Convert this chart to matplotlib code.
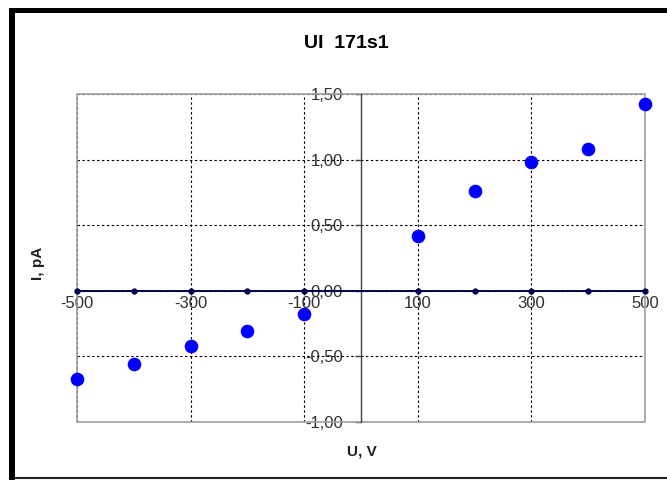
import matplotlib
matplotlib.use("Agg")
import matplotlib.pyplot as plt
from matplotlib.patches import Rectangle
from matplotlib.lines import Line2D
from matplotlib.ticker import FuncFormatter

plt.rcParams['font.family'] = ['Liberation Sans', 'DejaVu Sans']

# data
voltage = [-500, -400, -300, -200, -100, 100, 200, 300, 400, 500]
current = [-0.67, -0.56, -0.42, -0.305, -0.175, 0.42, 0.76, 0.98, 1.08, 1.42]
zero_line = [0, 0, 0, 0, 0, 0, 0, 0, 0, 0]
x_ticks = [-500, -300, -100, 100, 300, 500]
y_ticks = [-1.0, -0.5, 0.0, 0.5, 1.0, 1.5]
title = "UI  171s1"
x_label = "U, V"
y_label = "I, pA"

W, H = 667, 480
fig = plt.figure(figsize=(W / 100, H / 100), dpi=100)

# chart border (Excel-like)
fig.add_artist(Rectangle((9 / W, 0), 6 / W, 1 - 8 / H, transform=fig.transFigure,
                         color='black', lw=0))
fig.add_artist(Rectangle((9 / W, 1 - 13 / H), 1 - 9 / W, 5 / H, transform=fig.transFigure,
                         color='black', lw=0))
fig.add_artist(Line2D([15 / W, 1], [1 - 478 / H, 1 - 478 / H], transform=fig.transFigure,
                      color='#202020', lw=1.5))

ax = fig.add_axes([77 / W, 1 - 422 / H, (645 - 77) / W, (422 - 94) / H])
ax.set_xlim(-500, 500)
ax.set_ylim(-1, 1.5)

# grid
ax.set_xticks(x_ticks)
ax.set_yticks(y_ticks)
ax.grid(True, color='black', linestyle=(0, (2.2, 2.2)), lw=0.8)

# frame
for s in ['top', 'right']:
    ax.spines[s].set_visible(False)
ax.add_patch(Rectangle((0, 0), 1, 1, transform=ax.transAxes, fill=False,
                       edgecolor='#a0a0a0', lw=1.2, zorder=2.4, clip_on=False))

# axes through origin
ax.spines['left'].set_position(('data', 0))
ax.spines['left'].set_color('#404040')
ax.spines['left'].set_linewidth(1.0)
ax.spines['bottom'].set_position(('data', 0))
ax.spines['bottom'].set_color('#000040')
ax.spines['bottom'].set_linewidth(1.2)

fmt = FuncFormatter(lambda v, p: f"{v:.2f}".replace('.', ',').replace('\u2212', '-'))
ax.yaxis.set_major_formatter(fmt)
ax.xaxis.set_major_formatter(FuncFormatter(lambda v, p: f"{int(v)}"))
ax.tick_params(axis='y', direction='out', length=4, width=1, color='#404040',
               pad=9, labelsize=12, labelcolor='#303030')
ax.tick_params(axis='x', length=0, pad=4, labelsize=12, labelcolor='#303030')

# series
ax.plot(voltage, zero_line, color='#000050', lw=1.2, marker='o', ms=3.5,
        markerfacecolor='#000050', markeredgecolor='#000050', clip_on=False, zorder=3)
ax.plot(voltage, current, linestyle='none', marker='o', ms=8.8, color='#0000ff',
        markeredgecolor='#0000ff', clip_on=False, zorder=4)

# texts
fig.text(346 / W, 1 - 44 / H, title, ha='center', va='center', fontsize=14,
         fontweight='bold', color='black')
fig.text(362 / W, 1 - 452 / H, x_label, ha='center', va='center', fontsize=11,
         fontweight='bold', color='#202020')
fig.text(38 / W, 1 - 263 / H, y_label, ha='center', va='center', fontsize=11,
         fontweight='bold', color='#202020', rotation=90)

fig.savefig("out.png", dpi=100)
